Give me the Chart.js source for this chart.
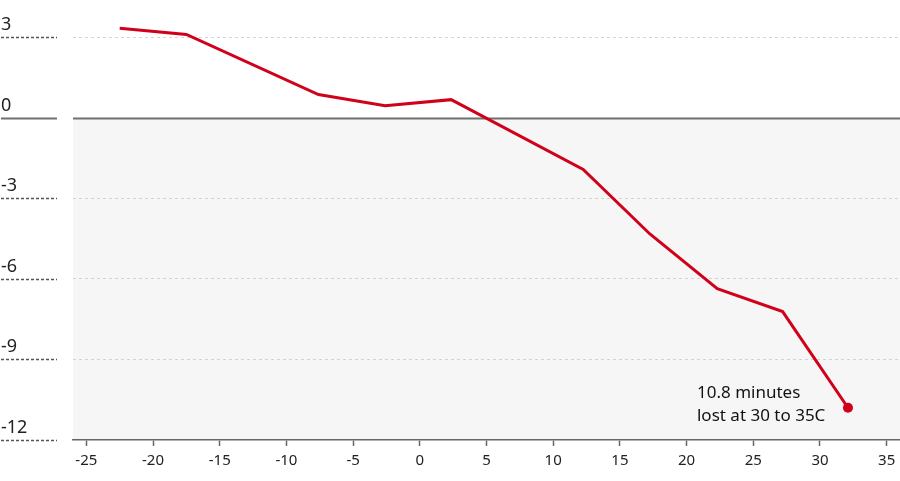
<!DOCTYPE html>
<html>
<head>
<meta charset="utf-8">
<script src="https://cdn.jsdelivr.net/npm/chart.js@4.4.1/dist/chart.umd.min.js"></script>
<style>
  html, body { margin: 0; padding: 0; background: #fff; overflow: hidden; }
  /* the end dot makes Chart.js pad the top and right by its radius, so the canvas is 5px bigger and shifted up */
  #wrap { width: 905px; height: 486px; position: absolute; left: 0; top: -5px; }
</style>
</head>
<body>
<div id="wrap"><canvas id="chart"></canvas></div>
<script>
  // temperature (C) vs minutes of sleep gained/lost
  const temps = [-22.5, -17.5, -7.6, -2.6, 2.35, 12.25, 17.25, 22.3, 27.2, 32.1];
  const minutes = [3.33, 3.1, 0.86, 0.44, 0.67, -1.93, -4.33, -6.37, -7.22, -10.8];
  const xTicks = [-25, -20, -15, -10, -5, 0, 5, 10, 15, 20, 25, 30, 35];
  const yTicks = [-12, -9, -6, -3, 0, 3];
  const noteLines = ['10.8 minutes', 'lost at 30 to 35C'];

  const RED = '#d0021b';
  const FONT = "'Noto Sans', sans-serif";

  const decor = {
    id: 'decor',
    beforeDraw(chart) {
      const { ctx, chartArea: a, scales: { y } } = chart;
      const y0 = y.getPixelForValue(0);
      ctx.save();
      ctx.fillStyle = '#f6f6f6';
      ctx.fillRect(a.left, y0, a.right - a.left, a.bottom - y0);
      ctx.restore();
    },
    beforeDatasetsDraw(chart) {
      const { ctx, chartArea: a, scales: { y } } = chart;
      ctx.save();
      // zero line
      const y0 = Math.round(y.getPixelForValue(0)) + 0.5;
      ctx.strokeStyle = '#707070';
      ctx.lineWidth = 2;
      ctx.beginPath();
      ctx.moveTo(a.left, y0); ctx.lineTo(a.right, y0);
      ctx.stroke();
      // left labels with short dotted rules
      ctx.font = '18px ' + FONT;
      ctx.textAlign = 'left';
      ctx.textBaseline = 'alphabetic';
      yTicks.forEach(v => {
        const py = Math.round(y.getPixelForValue(v)) + 0.5;
        ctx.fillStyle = '#222';
        ctx.fillText(String(v), 1, py - 8);
        ctx.strokeStyle = v === 0 ? '#707070' : '#555';
        ctx.lineWidth = v === 0 ? 2 : 1.5;
        ctx.setLineDash(v === 0 ? [] : [3, 2]);
        ctx.beginPath();
        ctx.moveTo(1, py); ctx.lineTo(57, py);
        ctx.stroke();
      });
      ctx.restore();
    },
    afterDatasetsDraw(chart) {
      const { ctx } = chart;
      const pt = chart.getDatasetMeta(0).data[temps.length - 1];
      ctx.save();
      ctx.font = '17px ' + FONT;
      ctx.fillStyle = '#121212';
      ctx.textAlign = 'left';
      ctx.fillText(noteLines[0], pt.x - 151, pt.y - 10);
      ctx.fillText(noteLines[1], pt.x - 151, pt.y + 13);
      ctx.restore();
    }
  };

  new Chart(document.getElementById('chart'), {
    type: 'line',
    data: {
      datasets: [{
        data: temps.map((t, i) => ({ x: t, y: minutes[i] })),
        borderColor: RED,
        backgroundColor: RED,
        borderWidth: 3,
        pointRadius: temps.map((t, i) => i === temps.length - 1 ? 5 : 0),
        pointBorderWidth: 0,
        tension: 0
      }]
    },
    options: {
      responsive: true,
      maintainAspectRatio: false,
      animation: false,
      layout: { padding: 0 },
      plugins: { legend: { display: false }, tooltip: { enabled: false } },
      scales: {
        x: {
          type: 'linear',
          min: -26,
          max: 36,
          afterBuildTicks: s => { s.ticks = xTicks.map(v => ({ value: v })); },
          afterFit: s => { s.height = 41; s.paddingLeft = 0; s.paddingRight = 0; },
          border: { display: true, color: '#666', width: 1.5, dash: [3, 2] },
          grid: { drawOnChartArea: false, drawTicks: true, tickLength: 6, tickColor: '#666', tickWidth: 1.5 },
          ticks: { color: '#222', font: { family: FONT, size: 15 }, padding: 6, maxRotation: 0 }
        },
        y: {
          min: -12,
          max: 4.38,
          afterBuildTicks: s => { s.ticks = yTicks.map(v => ({ value: v })); },
          afterFit: s => { s.width = 73; s.paddingTop = 0; s.paddingBottom = 0; },
          border: { display: false, dash: [3, 3] },
          grid: {
            drawTicks: false,
            color: c => (c.tick && (c.tick.value === 0 || c.tick.value === -12)) ? 'rgba(0,0,0,0)' : '#d4d4d4',
            lineWidth: 1
          },
          ticks: { display: false }
        }
      }
    },
    plugins: [decor]
  });
</script>
</body>
</html>
